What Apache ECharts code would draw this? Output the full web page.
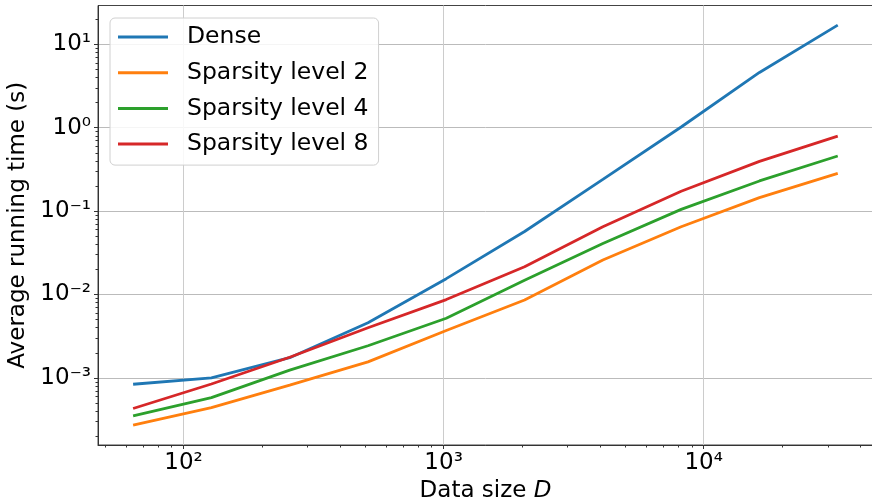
<!DOCTYPE html>
<html>
<head>
<meta charset="utf-8">
<script src="https://cdn.jsdelivr.net/npm/echarts@6/dist/echarts.min.js"></script>
<style>
html,body{margin:0;padding:0;background:#fff;}
#chart{width:872px;height:501px;}
</style>
</head>
<body>
<div id="chart"></div>
<script>
// ---- data ----
const xValues = [64, 128, 256, 512, 1024, 2048, 4096, 8192, 16384, 32768];
const seriesNames = ['Dense', 'Sparsity level 2', 'Sparsity level 4', 'Sparsity level 8'];
const dense = [8.4e-4, 1.0e-3, 1.75e-3, 4.6e-3, 0.0155, 0.057, 0.24, 1.02, 4.6, 17.0];
const sparsity2 = [2.72e-4, 4.4e-4, 8.2e-4, 1.56e-3, 3.7e-3, 8.6e-3, 0.026, 0.065, 0.145, 0.284];
const sparsity4 = [3.5e-4, 5.8e-4, 1.24e-3, 2.43e-3, 5.2e-3, 0.0148, 0.041, 0.105, 0.23, 0.458];
const sparsity8 = [4.3e-4, 8.45e-4, 1.77e-3, 4.0e-3, 8.7e-3, 0.0215, 0.065, 0.173, 0.395, 0.794];

const xMajorTicks = [100, 1000, 10000];
const xTickLabels = ['10²', '10³', '10⁴'];
const xMinorTicks = [50, 60, 70, 80, 90, 200, 300, 400, 500, 600, 700, 800, 900,
  2000, 3000, 4000, 5000, 6000, 7000, 8000, 9000, 20000, 30000, 40000];
const yMajorTicks = [1e-3, 1e-2, 1e-1, 1, 10];
const yTickLabels = ['10⁻³', '10⁻²', '10⁻¹', '10⁰', '10¹'];
const yMinorTicks = [2e-4, 3e-4, 4e-4, 5e-4, 6e-4, 7e-4, 8e-4, 9e-4,
  2e-3, 3e-3, 4e-3, 5e-3, 6e-3, 7e-3, 8e-3, 9e-3,
  2e-2, 3e-2, 4e-2, 5e-2, 6e-2, 7e-2, 8e-2, 9e-2,
  0.2, 0.3, 0.4, 0.5, 0.6, 0.7, 0.8, 0.9,
  2, 3, 4, 5, 6, 7, 8, 9, 20];

const xMin = 46.9, xMax = 44770;
const yMin = 1.57e-4, yMax = 29.2;

// ---- chart ----
const colors = ['#1f77b4', '#ff7f0e', '#2ca02c', '#d62728'];
const allData = [dense, sparsity2, sparsity4, sparsity8];
const FONT = 'DejaVu Sans';
const FS = 23;

function labelFor(ticks, labels) {
  return function (v) {
    const e = Math.round(Math.log10(v));
    for (let i = 0; i < ticks.length; i++) {
      if (Math.round(Math.log10(ticks[i])) === e) return labels[i];
    }
    return '';
  };
}

const chart = echarts.init(document.getElementById('chart'), null, {renderer: 'canvas'});
chart.setOption({
  animation: false,
  backgroundColor: '#ffffff',
  color: colors,
  grid: {
    left: 98, top: 5.5, width: 775, height: 439.5,
    containLabel: false, outerBoundsMode: 'none',
    show: true, borderColor: '#444', borderWidth: 1, backgroundColor: 'transparent'
  },
  legend: {
    orient: 'vertical',
    left: 110, top: 18,
    padding: [7, 10, 9, 8],
    itemGap: 11.7,
    itemWidth: 50, itemHeight: 3,
    icon: 'rect',
    backgroundColor: 'rgba(255,255,255,0.85)',
    borderColor: '#d0d0d0', borderWidth: 1, borderRadius: 5,
    textStyle: {fontFamily: FONT, fontSize: 23.5, color: '#000', lineHeight: 24, padding: [0, 0, 0, 14]},
    data: seriesNames
  },
  xAxis: [{
    type: 'log', logBase: 10, min: xMin, max: xMax, position: 'bottom',
    name: '{n|Data size }{i|D}', nameLocation: 'middle', nameGap: 29,
    nameTextStyle: {
      rich: {
        n: {fontFamily: FONT, fontSize: FS, color: '#000'},
        i: {fontFamily: FONT, fontSize: FS, color: '#000', fontStyle: 'italic'}
      }
    },
    axisLine: {show: true, lineStyle: {color: '#333', width: 1}},
    axisTick: {show: true, customValues: xMajorTicks, length: 4, lineStyle: {color: '#333'}},
    axisLabel: {customValues: xMajorTicks, formatter: labelFor(xMajorTicks, xTickLabels),
      fontFamily: FONT, fontSize: FS, color: '#000', margin: 7},
    splitLine: {show: true, lineStyle: {color: '#cccccc', width: 1}},
    minorTick: {show: false}
  }, {
    type: 'log', logBase: 10, min: xMin, max: xMax, position: 'bottom', gridIndex: 0,
    axisLine: {show: false},
    axisTick: {show: true, customValues: xMinorTicks, length: 2.5, lineStyle: {color: '#333'}},
    axisLabel: {show: false},
    splitLine: {show: false}
  }],
  yAxis: [{
    type: 'log', logBase: 10, min: yMin, max: yMax, position: 'left',
    name: 'Average running time (s)', nameLocation: 'middle', nameGap: 64,
    nameTextStyle: {fontFamily: FONT, fontSize: FS, color: '#000'},
    axisLine: {show: true, lineStyle: {color: '#333', width: 1}},
    axisTick: {show: true, customValues: yMajorTicks, length: 4, lineStyle: {color: '#333'}},
    axisLabel: {customValues: yMajorTicks, formatter: labelFor(yMajorTicks, yTickLabels),
      fontFamily: FONT, fontSize: FS, color: '#000', margin: 7},
    splitLine: {show: true, lineStyle: {color: '#bbbbbb', width: 1}}
  }, {
    type: 'log', logBase: 10, min: yMin, max: yMax, position: 'left', gridIndex: 0,
    axisLine: {show: false},
    axisTick: {show: true, customValues: yMinorTicks, length: 2.5, lineStyle: {color: '#333'}},
    axisLabel: {show: false},
    splitLine: {show: false}
  }],
  series: seriesNames.map((name, k) => ({
    name: name,
    type: 'line',
    xAxisIndex: 0, yAxisIndex: 0,
    showSymbol: false, symbol: 'none',
    lineStyle: {width: 2.8, color: colors[k]},
    itemStyle: {color: colors[k]},
    data: xValues.map((x, i) => [x, allData[k][i]])
  }))
});
</script>
</body>
</html>
